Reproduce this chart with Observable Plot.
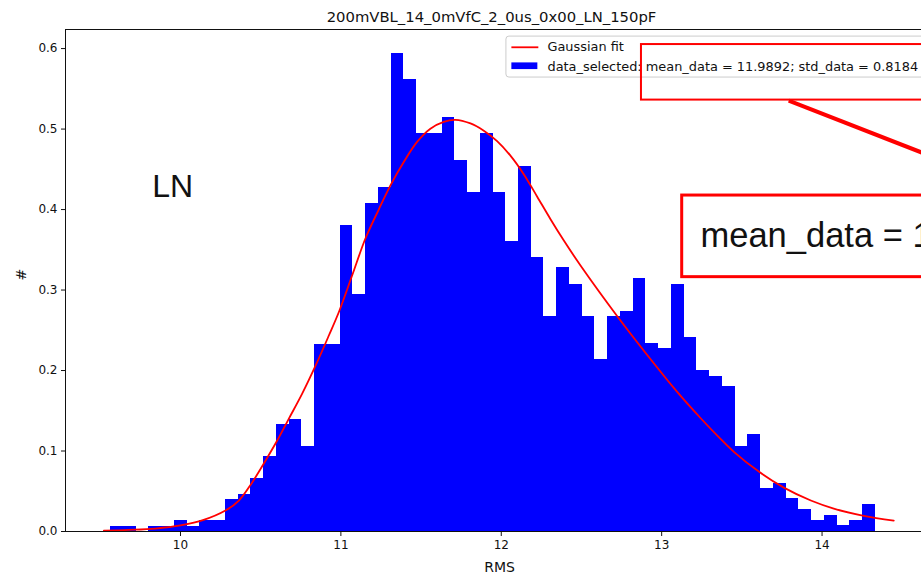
<!DOCTYPE html>
<html><head><meta charset="utf-8">
<script src="https://cdn.jsdelivr.net/npm/d3@7"></script>
<script src="https://cdn.jsdelivr.net/npm/@observablehq/plot@0.6"></script>
<style>html,body{margin:0;padding:0;background:#fff;overflow:hidden}</style>
</head><body><div id="chart"></div>
<script>
// ---- data ----
const binStart = 9.564;
const binWidth = 0.07948;
const density = [
  0.0066, 0.0066, 0, 0.0066, 0.0066, 0.0133, 0.0066, 0.0133, 0.0133, 0.0398,
  0.0464, 0.0663, 0.0928, 0.1326, 0.1392, 0.1061, 0.2321, 0.2321, 0.380, 0.294,
  0.408, 0.428, 0.594, 0.561, 0.495, 0.495, 0.514, 0.461, 0.421, 0.495,
  0.421, 0.360, 0.454, 0.341, 0.2675, 0.3276, 0.307, 0.2675, 0.214, 0.2675,
  0.273, 0.314, 0.234, 0.227, 0.307, 0.241, 0.200, 0.193, 0.180, 0.106,
  0.1205, 0.053, 0.060, 0.041, 0.0273, 0.0137, 0.020, 0.0071, 0.0137, 0.033
];
const fitX = [9.522, 9.678, 9.844, 10.0, 10.135, 10.28, 10.364, 10.447, 10.53, 10.603,
  10.675, 10.758, 10.842, 10.925, 10.99, 11.07, 11.153, 11.236, 11.309, 11.392,
  11.475, 11.558, 11.641, 11.714, 11.808, 11.891, 11.974, 12.057, 12.14, 12.224,
  12.307, 12.39, 12.494, 12.723, 12.951, 13.09, 13.242, 13.367, 13.45, 13.612,
  13.762, 13.93, 14.073, 14.26, 14.447];
const fitY = [0.001, 0.002, 0.0037, 0.0075, 0.0137, 0.026, 0.0385, 0.061, 0.088, 0.113,
  0.140, 0.171, 0.206, 0.2435, 0.274, 0.318, 0.364, 0.400, 0.430, 0.459,
  0.484, 0.5005, 0.509, 0.5115, 0.507, 0.498, 0.485, 0.467, 0.444, 0.416,
  0.388, 0.3615, 0.3305, 0.2675, 0.209, 0.175, 0.141, 0.115, 0.099, 0.0735,
  0.0545, 0.0385, 0.0285, 0.0195, 0.0135];
const xTicks = [10, 11, 12, 13, 14];
const yTicks = [0, 0.1, 0.2, 0.3, 0.4, 0.5, 0.6];
const titleText = "200mVBL_14_0mVfC_2_0us_0x00_LN_150pF";
const xLabel = "RMS";
const yLabel = "#";
const legendLabels = ["Gaussian fit", "data_selected: mean_data = 11.9892; std_data = 0.8184"];
const meanText = "mean_data = 11.9892";
const sideLabel = "LN";

// ---- tables ----
const bins = density.map((d, i) => ({x1: binStart + i * binWidth, x2: binStart + (i + 1) * binWidth, y: d}));
const fit = fitX.map((x, i) => ({x, y: fitY[i]}));
const xDomain = [9.283, 14.62];
const yDomain = [0, 0.6237];

const red = "#ff0000", blue = "#0000ff";
const mpl = "DejaVu Sans", arial = "Liberation Sans, Arial, sans-serif";

const chart = Plot.plot({
  width: 921, height: 573,
  marginTop: 29, marginBottom: 42, marginLeft: 65, marginRight: 0,
  style: {fontFamily: mpl, fontSize: "12px", color: "#111", background: "#fff"},
  x: {domain: xDomain, label: null},
  y: {domain: yDomain, label: null},
  marks: [
    Plot.rect(bins, {x1: "x1", x2: "x2", y1: 0, y2: "y", fill: blue, shapeRendering: "crispEdges"}),
    Plot.line(fit, {x: "x", y: "y", stroke: red, strokeWidth: 1.8, curve: "catmull-rom"}),
    Plot.ruleY([yDomain[0], yDomain[1]], {stroke: "#111", strokeWidth: 1}),
    Plot.ruleX([xDomain[0]], {stroke: "#111", strokeWidth: 1}),
    Plot.axisX({ticks: xTicks, tickFormat: d => String(d), tickSize: 5, tickPadding: 4, fontSize: 12, label: null, stroke: "#111"}),
    Plot.axisY({ticks: yTicks, tickFormat: ".1f", tickSize: 4, tickPadding: 4, fontSize: 12, label: null, stroke: "#111"}),
    // title & axis labels
    Plot.text([titleText], {frameAnchor: "top", dx: -2, dy: -8, lineAnchor: "bottom", fontSize: 14.8, fill: "#111"}),
    Plot.text([xLabel], {frameAnchor: "bottom", dx: 6, dy: 40, lineAnchor: "bottom", fontSize: 14, fill: "#111"}),
    Plot.text([yLabel], {frameAnchor: "left", dx: -44, rotate: -90, fontSize: 14, fill: "#111"}),
    // legend
    Plot.rect([0], {x1: 12.032, x2: 15, y1: 0.564, y2: 0.6149, fill: "white", fillOpacity: 0.85, stroke: "#cccccc", rx: 3}),
    Plot.link([0], {x1: 12.063, x2: 12.231, y1: 0.6016, y2: 0.6016, stroke: red, strokeWidth: 1.8}),
    Plot.rect([0], {x1: 12.066, x2: 12.228, y1: 0.5739, y2: 0.5822, fill: blue}),
    Plot.text(legendLabels, {x: 12.288, y: (d, i) => [0.6016, 0.5776][i], text: d => d, textAnchor: "start", fontSize: 12.9, fill: "#111"}),
    // annotations
    Plot.rect([0], {x1: 12.874, x2: 15, y1: 0.536, y2: 0.605, fill: "none", stroke: red, strokeWidth: 2}),
    Plot.link([0], {x1: 13.792, y1: 0.5354, x2: 14.863, y2: 0.452, stroke: red, strokeWidth: 4}),
    Plot.rect([0], {x1: 13.128, x2: 15, y1: 0.316, y2: 0.4174, fill: "white", stroke: red, strokeWidth: 3}),
    Plot.text([meanText], {x: 13.242, y: 0.353, lineAnchor: "bottom", textAnchor: "start", fontSize: 34.5, fontFamily: arial, fill: "#111"}),
    Plot.text([sideLabel], {x: 9.824, y: 0.415, lineAnchor: "bottom", textAnchor: "start", fontSize: 32, fontFamily: arial, fill: "#111"})
  ]
});
document.getElementById("chart").appendChild(chart);
</script>
</body></html>
